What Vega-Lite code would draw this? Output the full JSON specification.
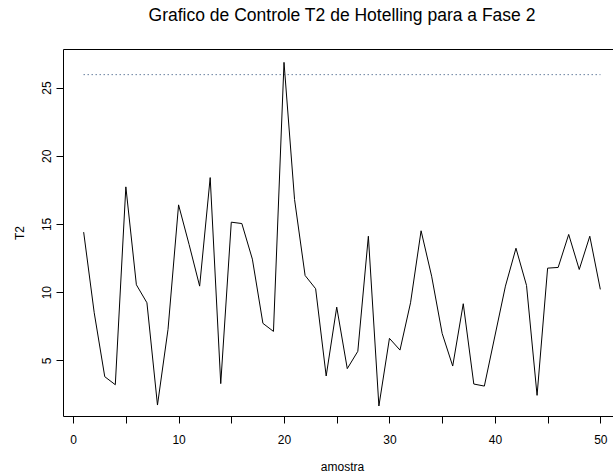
{
  "$schema": "https://vega.github.io/schema/vega-lite/v6.json",
  "autosize": {"type": "none"},
  "padding": {"left": 63, "top": 49, "right": 0, "bottom": 57},
  "width": 558,
  "height": 367,
  "background": "white",
  "title": {
    "text": "Grafico de Controle T2 de Hotelling para a Fase 2",
    "font": "Liberation Sans",
    "fontSize": 17.5,
    "fontWeight": "normal",
    "color": "#000000",
    "anchor": "middle",
    "offset": 25
  },
  "config": {
    "view": {"stroke": "#000000", "strokeWidth": 1},
    "axis": {
      "labelFont": "Liberation Sans",
      "titleFont": "Liberation Sans",
      "labelFontSize": 12,
      "titleFontSize": 12,
      "titleFontWeight": "normal",
      "labelColor": "#000000",
      "titleColor": "#000000",
      "tickColor": "#000000",
      "tickSize": 7,
      "grid": false,
      "domain": false
    }
  },
  "datasets": {
    "t2": [
      {"amostra": 1, "T2": 14.40},
      {"amostra": 2, "T2": 8.49},
      {"amostra": 3, "T2": 3.80},
      {"amostra": 4, "T2": 3.21},
      {"amostra": 5, "T2": 17.72},
      {"amostra": 6, "T2": 10.54},
      {"amostra": 7, "T2": 9.22},
      {"amostra": 8, "T2": 1.72},
      {"amostra": 9, "T2": 7.27},
      {"amostra": 10, "T2": 16.40},
      {"amostra": 11, "T2": 13.49},
      {"amostra": 12, "T2": 10.44},
      {"amostra": 13, "T2": 18.40},
      {"amostra": 14, "T2": 3.29},
      {"amostra": 15, "T2": 15.13},
      {"amostra": 16, "T2": 15.03},
      {"amostra": 17, "T2": 12.42},
      {"amostra": 18, "T2": 7.71},
      {"amostra": 19, "T2": 7.12},
      {"amostra": 20, "T2": 26.85},
      {"amostra": 21, "T2": 16.79},
      {"amostra": 22, "T2": 11.22},
      {"amostra": 23, "T2": 10.25},
      {"amostra": 24, "T2": 3.85},
      {"amostra": 25, "T2": 8.90},
      {"amostra": 26, "T2": 4.39},
      {"amostra": 27, "T2": 5.66},
      {"amostra": 28, "T2": 14.10},
      {"amostra": 29, "T2": 1.65},
      {"amostra": 30, "T2": 6.61},
      {"amostra": 31, "T2": 5.75},
      {"amostra": 32, "T2": 9.22},
      {"amostra": 33, "T2": 14.50},
      {"amostra": 34, "T2": 11.17},
      {"amostra": 35, "T2": 6.97},
      {"amostra": 36, "T2": 4.58},
      {"amostra": 37, "T2": 9.15},
      {"amostra": 38, "T2": 3.26},
      {"amostra": 39, "T2": 3.11},
      {"amostra": 40, "T2": 6.78},
      {"amostra": 41, "T2": 10.44},
      {"amostra": 42, "T2": 13.22},
      {"amostra": 43, "T2": 10.49},
      {"amostra": 44, "T2": 2.43},
      {"amostra": 45, "T2": 11.76},
      {"amostra": 46, "T2": 11.81},
      {"amostra": 47, "T2": 14.23},
      {"amostra": 48, "T2": 11.66},
      {"amostra": 49, "T2": 14.10},
      {"amostra": 50, "T2": 10.20}
    ],
    "ucl": [
      {"amostra": 1, "T2": 25.95},
      {"amostra": 50, "T2": 25.95}
    ]
  },
  "layer": [
    {
      "data": {"name": "ucl"},
      "mark": {"type": "line", "color": "#1c406e", "strokeWidth": 1, "strokeDash": [1, 3]},
      "encoding": {
        "x": {"field": "amostra", "type": "quantitative"},
        "y": {"field": "T2", "type": "quantitative"}
      }
    },
    {
      "data": {"name": "t2"},
      "mark": {"type": "line", "color": "#000000", "strokeWidth": 1},
      "encoding": {
        "x": {
          "field": "amostra",
          "type": "quantitative",
          "scale": {"domain": [-0.96, 51.96], "nice": false, "zero": false},
          "axis": {
            "title": "amostra",
            "values": [0, 5, 10, 15, 20, 25, 30, 35, 40, 45, 50],
            "labelExpr": "datum.value % 10 === 0 ? datum.label : ''",
            "labelPadding": 11,
            "titlePadding": 16
          }
        },
        "y": {
          "field": "T2",
          "type": "quantitative",
          "scale": {"domain": [0.916, 27.83], "nice": false, "zero": false},
          "axis": {
            "title": "T2",
            "values": [5, 10, 15, 20, 25],
            "labelAngle": -90,
            "labelAlign": "center",
            "labelBaseline": "alphabetic",
            "labelPadding": 6,
            "titlePadding": 14
          }
        }
      }
    }
  ]
}
